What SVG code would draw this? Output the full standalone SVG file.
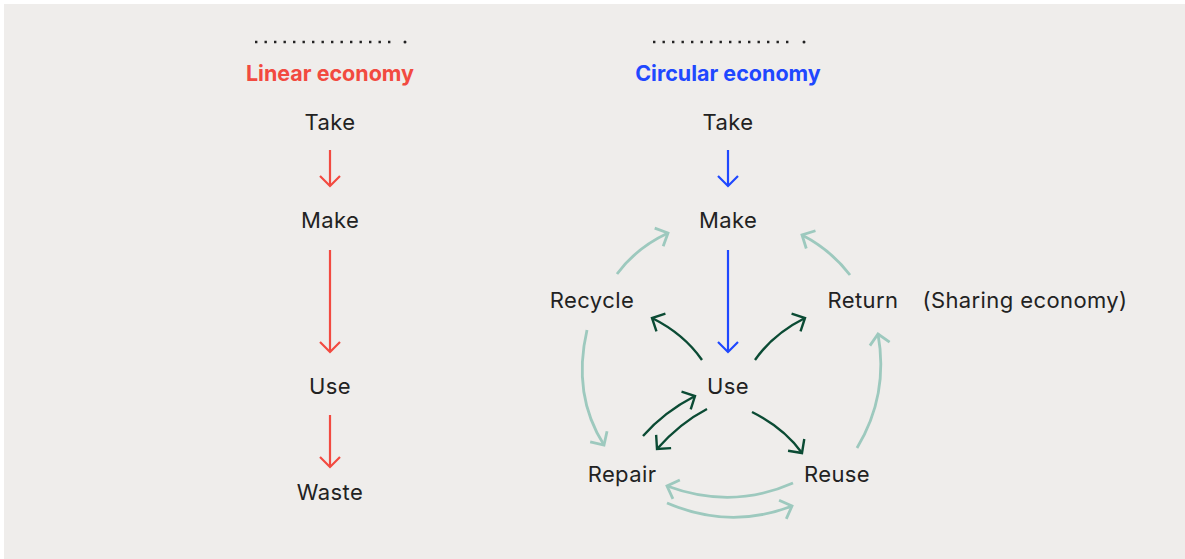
<svg xmlns="http://www.w3.org/2000/svg" width="1185" height="559" viewBox="0 0 1185 559">
<defs>
<style>
.t{font-family:Inter,"Noto Sans","Liberation Sans",sans-serif;font-size:22px;letter-spacing:0.4px;fill:#222222;text-anchor:middle}
.h{font-family:Inter,"Noto Sans","Liberation Sans",sans-serif;font-size:21.5px;font-weight:700;text-anchor:middle}
.dots{stroke:#222;stroke-width:2.4;stroke-dasharray:2.4 7.1;fill:none}
.red{stroke:#F24A40;stroke-width:2.2;fill:none}
.blue{stroke:#1F48FF;stroke-width:2.2;fill:none}
.dg{stroke:#0B4B34;stroke-width:2.4;fill:none}
.lt{stroke:#9DC9BE;stroke-width:2.8;fill:none}
</style>
<marker id="mr" markerUnits="userSpaceOnUse" markerWidth="30" markerHeight="30" refX="0" refY="0" viewBox="-15 -15 30 30" orient="auto"><path d="M-10,-10 L0,0 L-10,10" fill="none" stroke="#F24A40" stroke-width="2.2"/></marker>
<marker id="mb" markerUnits="userSpaceOnUse" markerWidth="30" markerHeight="30" refX="0" refY="0" viewBox="-15 -15 30 30" orient="auto"><path d="M-10,-10 L0,0 L-10,10" fill="none" stroke="#1F48FF" stroke-width="2.2"/></marker>
<marker id="mg" markerUnits="userSpaceOnUse" markerWidth="30" markerHeight="30" refX="0" refY="0" viewBox="-15 -15 30 30" orient="auto"><path d="M-10,-10 L0,0 L-10,10" fill="none" stroke="#0B4B34" stroke-width="2.4"/></marker>
<marker id="ml" markerUnits="userSpaceOnUse" markerWidth="30" markerHeight="30" refX="0" refY="0" viewBox="-15 -15 30 30" orient="auto"><path d="M-10,-10 L0,0 L-10,10" fill="none" stroke="#9DC9BE" stroke-width="2.8"/></marker>
</defs>
<rect x="0" y="0" width="1185" height="559" fill="#ffffff"/>
<rect x="4" y="4" width="1181" height="555" fill="#EFEDEB"/>

<g id="linear-header">
<line class="dots" x1="255" y1="42" x2="396" y2="42"/>
<circle cx="405" cy="42" r="1.5" fill="#222"/>
<text class="h" x="330" y="81" fill="#F24A40">Linear economy</text>
</g>
<g id="circular-header">
<line class="dots" x1="653" y1="42" x2="794" y2="42"/>
<circle cx="804" cy="42" r="1.5" fill="#222"/>
<text class="h" x="728" y="81" fill="#1F48FF">Circular economy</text>
</g>

<g id="l-take"><text class="t" x="330" y="130">Take</text></g>
<g id="l-make"><text class="t" x="330" y="228">Make</text></g>
<g id="l-use"><text class="t" x="330" y="394">Use</text></g>
<g id="l-waste"><text class="t" x="330" y="500">Waste</text></g>

<g id="c-take"><text class="t" x="728" y="130">Take</text></g>
<g id="c-make"><text class="t" x="728" y="228">Make</text></g>
<g id="c-use"><text class="t" x="728" y="394">Use</text></g>
<g id="c-recycle"><text class="t" x="592" y="308">Recycle</text></g>
<g id="c-return"><text class="t" x="863" y="308">Return</text></g>
<g id="c-sharing"><text class="t" x="1025" y="308">(Sharing economy)</text></g>
<g id="c-repair"><text class="t" x="622" y="482">Repair</text></g>
<g id="c-reuse"><text class="t" x="837" y="482">Reuse</text></g>

<g id="connectors">
<line class="red" x1="330" y1="150" x2="330" y2="186" marker-end="url(#mr)"/>
<line class="red" x1="330" y1="250" x2="330" y2="352" marker-end="url(#mr)"/>
<line class="red" x1="330" y1="415" x2="330" y2="467" marker-end="url(#mr)"/>

<line class="blue" x1="728" y1="150" x2="728" y2="186" marker-end="url(#mb)"/>
<line class="blue" x1="728" y1="250" x2="728" y2="352" marker-end="url(#mb)"/>

<path class="dg" d="M702,360 Q684,334 652,318" marker-end="url(#mg)"/>
<path class="dg" d="M755,360 Q773,334 805,318" marker-end="url(#mg)"/>
<path class="dg" d="M643,436 Q664,412 695,396" marker-end="url(#mg)"/>
<path class="dg" d="M707,409 Q680,423 657,449" marker-end="url(#mg)"/>
<path class="dg" d="M752,412 Q784,428 802,453" marker-end="url(#mg)"/>

<path class="lt" d="M617,274 Q636,248 668,233" marker-end="url(#ml)"/>
<path class="lt" d="M850,275 Q831,250 802,235" marker-end="url(#ml)"/>
<path class="lt" d="M587,330 Q572,395 604,445" marker-end="url(#ml)"/>
<path class="lt" d="M857,448 Q889,395 878,334" marker-end="url(#ml)"/>
<path class="lt" d="M793,483 Q732,510 667,486" marker-end="url(#ml)"/>
<path class="lt" d="M667,503 Q730,530 792,506" marker-end="url(#ml)"/>
</g>
</svg>
